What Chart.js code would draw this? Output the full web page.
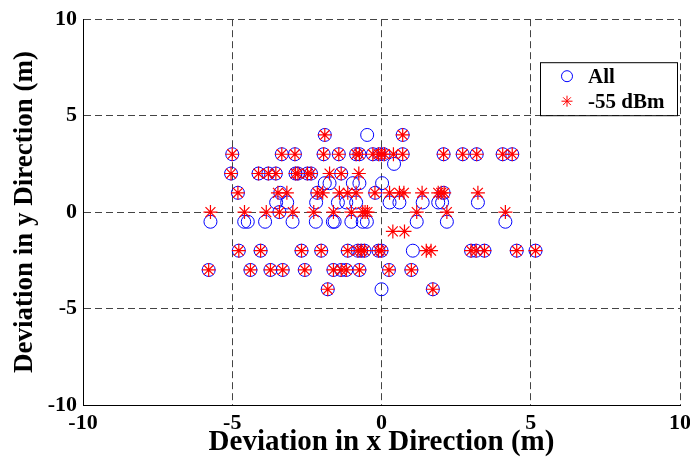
<!DOCTYPE html>
<html>
<head>
<meta charset="utf-8">
<script src="https://cdn.jsdelivr.net/npm/chart.js@4.4.1/dist/chart.umd.min.js"></script>
<style>
  html, body { margin: 0; padding: 0; background: #fff; }
</style>
</head>
<body>
<canvas id="devChart" width="690" height="460"></canvas>
<script>
// "All" measurements (blue circles), row by row from top
var allX = [
  -1.9, -0.48, 0.71,
  -5.0, -3.34, -2.9, -1.94, -1.43, -0.85, -0.74, -0.29, -0.07, 0.07, 0.71, 2.08, 2.72, 3.19, 4.06, 4.38,
  0.42,
  -5.04, -4.12, -3.79, -3.54, -2.88, -2.8, -2.48, -2.36, -1.35,
  -1.9, -1.74, -0.96, -0.74, 0.02,
  -4.81, -3.39, -2.15, -0.21, 2.08,
  -3.53, -3.16, -2.19, -1.46, -1.18, -0.85, 0.27, 0.6, 1.38, 1.9, 2.03, 3.23,
  -3.42,
  -5.73, -4.6, -4.48, -3.9, -2.98, -2.2, -1.63, -1.57, -1.01, -0.63, -0.49, 1.18, 2.19, 4.15,
  -4.78, -4.05, -2.68, -2.02, -1.13, -0.79, -0.68, -0.57, -0.1, 0.0, 1.05, 3.0, 3.17, 3.45, 4.53, 5.16,
  -5.79, -4.39, -3.72, -3.31, -2.57, -1.61, -1.35, -1.18, -0.74, 0.25, 1.0,
  -1.8, 0.0, 1.72
];
var allY = [
  4, 4, 4,
  3, 3, 3, 3, 3, 3, 3, 3, 3, 3, 3, 3, 3, 3, 3, 3,
  2.5,
  2, 2, 2, 2, 2, 2, 2, 2, 2,
  1.5, 1.5, 1.5, 1.5, 1.5,
  1, 1, 1, 1, 1,
  0.5, 0.5, 0.5, 0.5, 0.5, 0.5, 0.5, 0.5, 0.5, 0.5, 0.5, 0.5,
  0,
  -0.5, -0.5, -0.5, -0.5, -0.5, -0.5, -0.5, -0.5, -0.5, -0.5, -0.5, -0.5, -0.5, -0.5,
  -2, -2, -2, -2, -2, -2, -2, -2, -2, -2, -2, -2, -2, -2, -2, -2,
  -3, -3, -3, -3, -3, -3, -3, -3, -3, -3, -3,
  -4, -4, -4
];

// -55 dBm measurements (red stars)
var dbmX = [
  -1.9, 0.71,
  -5.0, -3.34, -2.9, -1.94, -1.43, -0.85, -0.74, -0.29, -0.1, 0.0, 0.1, 0.4, 0.71, 2.08, 2.72, 3.19, 4.06, 4.38,
  -5.04, -4.12, -3.79, -3.54, -2.88, -2.8, -2.48, -2.36, -1.74, -1.35, -0.76,
  -4.81, -3.47, -3.17, -2.15, -1.97, -1.41, -1.13, -0.85, -0.22, 0.27, 0.6, 0.75, 1.36, 1.9, 2.0, 2.1, 3.23,
  -5.73, -4.59, -3.86, -3.42, -2.97, -2.27, -1.61, -1.01, -0.63, -0.55, -0.47, 1.18, 2.19, 4.15,
  0.38, 0.77,
  -4.78, -4.05, -2.68, -2.02, -1.13, -0.79, -0.68, -0.57, -0.1, 0.0, 1.5, 1.66, 3.0, 3.17, 3.45, 4.53, 5.16,
  -5.79, -4.39, -3.72, -3.31, -2.57, -1.61, -1.35, -1.18, -0.74, 0.25, 1.0,
  -1.8, 1.72
];
var dbmY = [
  4, 4,
  3, 3, 3, 3, 3, 3, 3, 3, 3, 3, 3, 3, 3, 3, 3, 3, 3, 3,
  2, 2, 2, 2, 2, 2, 2, 2, 2, 2, 2,
  1, 1, 1, 1, 1, 1, 1, 1, 1, 1, 1, 1, 1, 1, 1, 1, 1,
  0, 0, 0, 0, 0, 0, 0, 0, 0, 0, 0, 0, 0, 0,
  -1, -1,
  -2, -2, -2, -2, -2, -2, -2, -2, -2, -2, -2, -2, -2, -2, -2, -2, -2,
  -3, -3, -3, -3, -3, -3, -3, -3, -3, -3, -3,
  -4, -4
];

var xTicks = [-10, -5, 0, 5, 10];
var yTicks = [-10, -5, 0, 5, 10];
var seriesNames = ['All', '-55 dBm'];

function toPoints(xs, ys) {
  return xs.map(function (x, i) { return { x: x, y: ys[i] }; });
}

var serif = "'Liberation Serif', 'Times New Roman', serif";

// legend box drawn inside the plot, top right
var boxLegend = {
  id: 'boxLegend',
  afterDraw: function (chart) {
    var ctx = chart.ctx, area = chart.chartArea;
    var w = 137, h = 53;
    var x = area.right - 3 - w, y = area.top + 43;
    ctx.save();
    ctx.fillStyle = '#fff';
    ctx.fillRect(x, y, w, h);
    ctx.strokeStyle = '#000';
    ctx.lineWidth = 1;
    ctx.strokeRect(x + 0.5, y + 0.5, w, h);
    chart.data.datasets.forEach(function (ds, i) {
      var cy = y + 14 + i * 25;
      ctx.strokeStyle = ds.borderColor;
      ctx.fillStyle = 'rgba(0,0,0,0)';
      ctx.lineWidth = 1;
      Chart.helpers.drawPoint(ctx, { pointStyle: ds.pointStyle, radius: 5.5, borderWidth: 1, rotation: 0 }, x + 27, cy);
      ctx.fillStyle = '#000';
      ctx.font = 'bold 21px ' + serif;
      ctx.textBaseline = 'middle';
      ctx.textAlign = 'left';
      ctx.fillText(ds.label, x + 48, cy + 1);
    });
    ctx.restore();
  }
};

var ctx = document.getElementById('devChart').getContext('2d');
var devChart = new Chart(ctx, {
  type: 'scatter',
  data: {
    datasets: [{
      label: seriesNames[0],
      data: toPoints(allX, allY),
      pointStyle: 'circle',
      radius: 6.5,
      borderWidth: 1,
      borderColor: '#0000ff',
      backgroundColor: 'rgba(0,0,0,0)',
      order: 1
    }, {
      label: seriesNames[1],
      data: toPoints(dbmX, dbmY),
      pointStyle: 'star',
      radius: 7,
      borderWidth: 1.2,
      borderColor: '#ff0000',
      backgroundColor: 'rgba(0,0,0,0)',
      order: 0
    }]
  },
  options: {
    responsive: false,
    animation: false,
    events: [],
    layout: { padding: { top: 18, right: 10, left: 0, bottom: 0 } },
    plugins: {
      legend: { display: false },
      tooltip: { enabled: false }
    },
    scales: {
      x: {
        type: 'linear',
        min: -10,
        max: 10,
        afterBuildTicks: function (scale) {
          scale.ticks = xTicks.map(function (v) { return { value: v }; });
        },
        afterFit: function (scale) {
          scale.height = 55;
          scale.paddingLeft = 0;
          scale.paddingRight = 0;
        },
        grid: { color: '#444', lineWidth: 1, drawTicks: false },
        border: { display: true, color: '#000', width: 1, dash: [7, 4] },
        ticks: {
          padding: 5,
          color: '#000',
          maxRotation: 0,
          font: { family: serif, size: 22, weight: 'bold' }
        },
        title: {
          display: true,
          text: 'Deviation in x Direction (m)',
          color: '#000',
          padding: { top: 0, bottom: 0 },
          font: { family: serif, size: 29, weight: 'bold' }
        }
      },
      y: {
        type: 'linear',
        min: -10,
        max: 10,
        afterBuildTicks: function (scale) {
          scale.ticks = yTicks.map(function (v) { return { value: v }; });
        },
        afterFit: function (scale) { scale.width = 83; },
        grid: { color: '#444', lineWidth: 1, drawTicks: false },
        border: { display: true, color: '#000', width: 1, dash: [7, 4] },
        ticks: {
          padding: 6,
          color: '#000',
          font: { family: serif, size: 22, weight: 'bold' }
        },
        title: {
          display: true,
          text: 'Deviation in y Direction (m)',
          color: '#000',
          padding: { top: 9, bottom: 0 },
          font: { family: serif, size: 27, weight: 'bold' }
        }
      }
    }
  },
  plugins: [boxLegend]
});
</script>
</body>
</html>
